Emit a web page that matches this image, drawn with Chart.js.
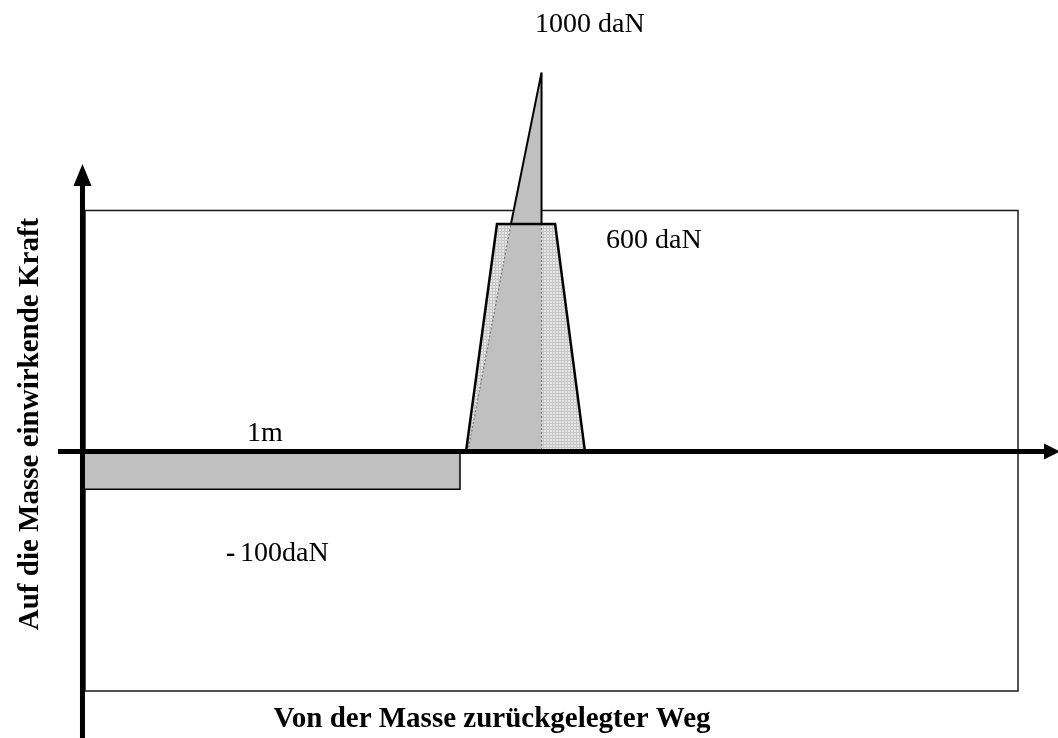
<!DOCTYPE html>
<html>
<head>
<meta charset="utf-8">
<script src="https://cdn.jsdelivr.net/npm/chart.js@4/dist/chart.umd.min.js"></script>
<style>
    html, body { margin: 0; padding: 0; background: #ffffff; }
    canvas { display: block; }
</style>
</head>
<body>
<canvas id="kraftChart" width="1058" height="738"></canvas>
<script>
// Weg in m, Kraft in daN
var negWeg   = [0, 0, 1, 1, 0];
var negKraft = [0, -100, -100, 0, 0];

var trapWeg   = [1.016, 1.098, 1.252, 1.331, 1.016];
var trapKraft = [0, 600, 600, 0, 0];

var innerWeg   = [1.021, 1.135, 1.216, 1.216, 1.021];
var innerKraft = [0, 600, 600, 0, 0];

var spikeWeg   = [1.135, 1.216, 1.216, 1.135];
var spikeKraft = [600, 1000, 600, 600];

var labelTexts = ['1000 daN', '600 daN', '1m', '100daN'];
var xTitle = 'Von der Masse zurückgelegter Weg';
var yTitle = 'Auf die Masse einwirkende Kraft';

// Achsenbereich (so dass 0/0 bei der Pfeilachse liegt)
var X_MIN = -0.2185, X_MAX = 2.5841;
var Y_MIN = -756, Y_MAX = 1191;

var GRAU = '#c0c0c0';
var SERIF = '"Liberation Serif", "Times New Roman", serif';

function pts(xs, ys) {
    return xs.map(function(x, i) { return { x: x, y: ys[i] }; });
}

// feines Raster fuer die rechte Flaeche des Trapezes
function rasterMuster() {
    var c = document.createElement('canvas');
    c.width = 3; c.height = 3;
    var g = c.getContext('2d');
    g.fillStyle = '#e6e6e6';
    g.fillRect(0, 0, 3, 3);
    g.fillStyle = '#c6c6c6';
    g.fillRect(0, 0, 3, 1);
    g.fillRect(0, 0, 1, 3);
    return g.createPattern(c, 'repeat');
}

var diagramPlugin = {
    id: 'diagram',
    beforeDatasetsDraw: function(chart) {
        var ctx = chart.ctx;
        ctx.save();
        ctx.strokeStyle = '#1a1a1a';
        ctx.lineWidth = 1.5;
        ctx.strokeRect(85, 210.5, 1018 - 85, 691 - 210.5);
        ctx.restore();
    },
    afterDatasetsDraw: function(chart) {
        var ctx = chart.ctx;
        var xs = chart.scales.x, ys = chart.scales.y;
        var x0 = xs.getPixelForValue(0);
        var y0 = ys.getPixelForValue(0);
        ctx.save();
        ctx.fillStyle = '#000';
        ctx.strokeStyle = '#000';

        // x-Achse mit Pfeil
        ctx.lineWidth = 5;
        ctx.beginPath();
        ctx.moveTo(58, y0);
        ctx.lineTo(1046, y0);
        ctx.stroke();
        ctx.beginPath();
        ctx.moveTo(1044, y0 - 8);
        ctx.lineTo(1060, y0);
        ctx.lineTo(1044, y0 + 8);
        ctx.closePath();
        ctx.fill();

        // y-Achse mit Pfeil
        ctx.beginPath();
        ctx.moveTo(x0, 738);
        ctx.lineTo(x0, 184);
        ctx.stroke();
        ctx.beginPath();
        ctx.moveTo(x0 - 9, 186);
        ctx.lineTo(x0, 164);
        ctx.lineTo(x0 + 9, 186);
        ctx.closePath();
        ctx.fill();

        // Beschriftungen
        ctx.textBaseline = 'alphabetic';
        ctx.textAlign = 'left';
        ctx.font = '28px ' + SERIF;
        ctx.fillText(labelTexts[0], 535, 32);
        ctx.fillText(labelTexts[1], 606, 248);
        ctx.fillText(labelTexts[2], 247, 441);
        ctx.fillText(labelTexts[3], 240, 561);
        ctx.font = 'bold 28px ' + SERIF;
        ctx.fillText('-', 226, 561);

        ctx.font = 'bold 29px ' + SERIF;
        ctx.textAlign = 'center';
        ctx.fillText(xTitle, 492, 727);

        ctx.translate(38, 424);
        ctx.rotate(-Math.PI / 2);
        ctx.fillText(yTitle, 0, 0);
        ctx.restore();
    }
};

var ctx = document.getElementById('kraftChart').getContext('2d');
var linie = { tension: 0, pointRadius: 0, pointHoverRadius: 0 };

var kraftChart = new Chart(ctx, {
    type: 'line',
    data: {
        datasets: [
            Object.assign({
                label: 'Trapez Rand',
                data: pts(trapWeg, trapKraft),
                borderColor: '#000',
                borderWidth: 2.5,
                fill: false
            }, linie),
            Object.assign({
                label: 'Spitze',
                data: pts(spikeWeg, spikeKraft),
                borderColor: '#000',
                borderWidth: 2,
                backgroundColor: GRAU,
                fill: 'shape'
            }, linie),
            Object.assign({
                label: 'Hilfslinien',
                data: [
                    { x: innerWeg[0], y: innerKraft[0] },
                    { x: innerWeg[1], y: innerKraft[1] },
                    { x: (innerWeg[1] + innerWeg[2]) / 2, y: null },
                    { x: innerWeg[2], y: innerKraft[2] },
                    { x: innerWeg[3], y: innerKraft[3] }
                ],
                borderColor: '#7a7a7a',
                borderWidth: 1.2,
                borderDash: [2, 2],
                spanGaps: false,
                fill: false
            }, linie),
            Object.assign({
                label: 'Kern',
                data: pts(innerWeg, innerKraft),
                borderWidth: 0,
                borderColor: 'rgba(0,0,0,0)',
                backgroundColor: GRAU,
                fill: 'shape'
            }, linie),
            Object.assign({
                label: 'Trapez',
                data: pts(trapWeg, trapKraft),
                borderWidth: 0,
                borderColor: 'rgba(0,0,0,0)',
                backgroundColor: rasterMuster(),
                fill: 'shape'
            }, linie),
            Object.assign({
                label: 'Negativ',
                data: pts(negWeg, negKraft),
                borderColor: '#000',
                borderWidth: 1.5,
                backgroundColor: GRAU,
                fill: 'shape'
            }, linie)
        ]
    },
    options: {
        responsive: false,
        animation: false,
        layout: { padding: 0 },
        plugins: {
            legend: { display: false },
            tooltip: { enabled: false }
        },
        scales: {
            x: { type: 'linear', min: X_MIN, max: X_MAX, display: false },
            y: { type: 'linear', min: Y_MIN, max: Y_MAX, display: false }
        }
    },
    plugins: [diagramPlugin]
});
</script>
</body>
</html>
